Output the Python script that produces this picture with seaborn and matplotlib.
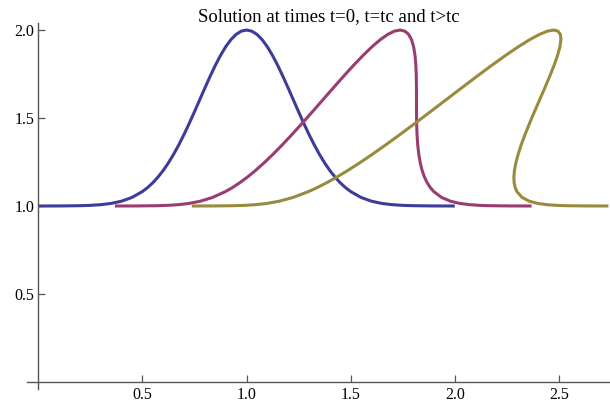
import numpy as np
import pandas as pd
import matplotlib
matplotlib.use("Agg")
import matplotlib.pyplot as plt
import seaborn as sns

# ---- data ----
# profile heights (shared by the three curves: same characteristic values)
u_vals = [1.00005, 1.00030, 1.00166, 1.00360, 1.00745, 1.01462, 1.02732, 1.04855,
          1.08208, 1.10475, 1.13199, 1.16427, 1.20190, 1.24504, 1.29376, 1.34778,
          1.40657, 1.46942, 1.53526, 1.60279, 1.67032, 1.73616, 1.79852, 1.85535,
          1.90484, 1.94530, 1.97531, 1.99377, 2.00000, 1.99377, 1.97531, 1.94530,
          1.90484, 1.85535, 1.79852, 1.73616, 1.67032, 1.60279, 1.53526, 1.46942,
          1.40657, 1.34778, 1.29376, 1.24504, 1.20190, 1.16427, 1.13199, 1.10475,
          1.08208, 1.04855, 1.02732, 1.01462, 1.00745, 1.00360, 1.00166, 1.00030,
          1.00005]

# t = 0
x_t0 = [0.0, 0.1, 0.2, 0.25, 0.3, 0.35, 0.4, 0.45, 0.5, 0.525, 0.55, 0.575, 0.6,
        0.625, 0.65, 0.675, 0.7, 0.725, 0.75, 0.775, 0.8, 0.825, 0.85, 0.875, 0.9,
        0.925, 0.95, 0.975, 1.0, 1.025, 1.05, 1.075, 1.1, 1.125, 1.15, 1.175, 1.2,
        1.225, 1.25, 1.275, 1.3, 1.325, 1.35, 1.375, 1.4, 1.425, 1.45, 1.475, 1.5,
        1.55, 1.6, 1.65, 1.7, 1.75, 1.8, 1.9, 2.0]

# t = tc
x_tc = [0.3687, 0.46881, 0.56931, 0.62003, 0.67145, 0.72409, 0.77877, 0.8366,
        0.89896, 0.93232, 0.96736, 1.00427, 1.04314, 1.08405, 1.12701, 1.17193,
        1.2186, 1.26678, 1.31605, 1.36595, 1.41585, 1.46512, 1.51311, 1.55907,
        1.60231, 1.64223, 1.6783, 1.7101, 1.7374, 1.7601, 1.7783, 1.79223,
        1.80231, 1.80907, 1.81311, 1.81512, 1.81585, 1.81595, 1.81605, 1.81678,
        1.8186, 1.82193, 1.82701, 1.83405, 1.84314, 1.85427, 1.86736, 1.88232,
        1.89896, 1.9366, 1.97877, 2.02409, 2.07145, 2.12003, 2.16931, 2.26881,
        2.36872]

# t > tc
x_gt = [0.7374, 0.83762, 0.93862, 0.99006, 1.0429, 1.09818, 1.15754, 1.2232,
        1.29792, 1.33964, 1.38472, 1.43354, 1.48628, 1.5431, 1.60402, 1.66886,
        1.7372, 1.80856, 1.8821, 1.9569, 2.0317, 2.10524, 2.17622, 2.24314,
        2.30462, 2.35946, 2.4066, 2.4452, 2.4748, 2.4952, 2.5066, 2.50946,
        2.50462, 2.49314, 2.47622, 2.45524, 2.4317, 2.4069, 2.3821, 2.35856,
        2.3372, 2.31886, 2.30402, 2.2931, 2.28628, 2.28354, 2.28472, 2.28964,
        2.29792, 2.3232, 2.35754, 2.39818, 2.4429, 2.49006, 2.53862, 2.63762,
        2.7374]

series_names = ["t=0", "t=tc", "t>tc"]
colors = ["#3d3d99", "#993d71", "#998b3d"]
title = "Solution at times t=0, t=tc and t>tc"
x_major = [0.5, 1.0, 1.5, 2.0, 2.5]
y_major = [0.5, 1.0, 1.5, 2.0]

# ---- plotting ----
sns.set_style("white")
plt.rcParams["font.family"] = ["Liberation Serif", "DejaVu Serif"]
plt.rcParams["lines.solid_capstyle"] = "butt"
plt.rcParams["lines.solid_joinstyle"] = "round"

fig = plt.figure(figsize=(6.10, 4.05), dpi=100)
ax = fig.add_axes([27 / 610, 16 / 405, 583 / 610, 366 / 405])

for xs, name, col in zip([x_t0, x_tc, x_gt], series_names, colors):
    df = pd.DataFrame({"x": xs, "u": u_vals})
    sns.lineplot(data=df, x="x", y="u", sort=False, estimator=None,
                 color=col, linewidth=2.2, ax=ax, legend=False)

ax.set_xlim(-0.0538, 2.745)
ax.set_ylim(-0.04, 2.04)
ax.set_xlabel("")
ax.set_ylabel("")

axis_col = "#555555"
for s in ["top", "right"]:
    ax.spines[s].set_visible(False)
for s in ["bottom", "left"]:
    ax.spines[s].set_position(("data", 0))
    ax.spines[s].set_color(axis_col)
    ax.spines[s].set_linewidth(1.0)

ax.set_xticks(x_major)
ax.set_xticklabels([f"{v:.1f}" for v in x_major])
ax.set_xticks([round(0.1 * i, 1) for i in range(1, 28) if i % 5 != 0], minor=True)
ax.set_yticks(y_major)
ax.set_yticklabels([f"{v:.1f}" for v in y_major])
ax.set_yticks([round(0.1 * i, 1) for i in range(1, 21) if i % 5 != 0], minor=True)

ax.tick_params(axis="both", which="both", direction="in", color=axis_col,
               labelsize=11.5, labelcolor="black")
ax.tick_params(axis="both", which="major", length=5, width=0.9)
ax.tick_params(axis="both", which="minor", length=2.6, width=0.7)
ax.tick_params(axis="x", which="major", pad=3.5)
ax.tick_params(axis="y", which="major", pad=3)
ax.tick_params(bottom=True, left=True, top=False, right=False)

fig.text(329 / 610, (405 - 21) / 405, title, ha="center", va="baseline",
         fontsize=13.5, color="black")

fig.savefig("out.png", dpi=100)
